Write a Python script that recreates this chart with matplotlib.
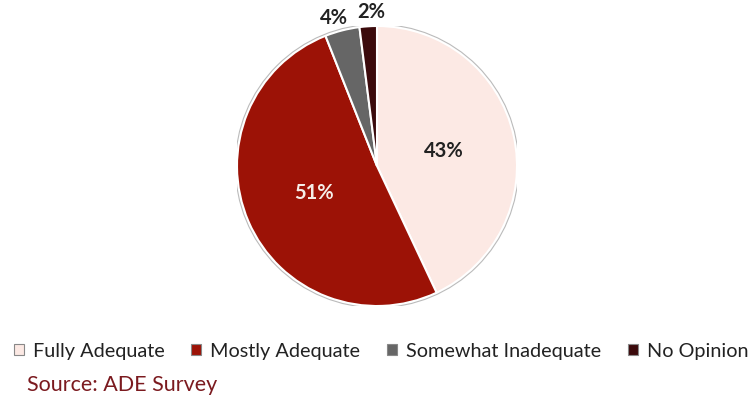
import matplotlib.pyplot as plt
from matplotlib.patches import Circle
import numpy as np

categories = ["Fully Adequate", "Mostly Adequate", "Somewhat Inadequate", "No Opinion"]
values = [43, 51, 4, 2]
labels = ["43%", "51%", "4%", "2%"]
colors = ["#FCE9E4", "#9C1206", "#666666", "#3B0A0C"]
label_colors = ["#222222", "#F5EEE8", "#222222", "#222222"]

plt.rcParams['font.family'] = ['Lato', 'DejaVu Sans']

fig = plt.figure(figsize=(7.53, 4.03), dpi=100)
ax = fig.add_axes([237/753, (403-306)/403, 280/753, 280/403])

wedges, _ = ax.pie(values, colors=colors, startangle=90, counterclock=False,
                   radius=1.0, wedgeprops=dict(edgecolor="white", linewidth=1.5))
ax.add_patch(Circle((0, 0), 1.012, fill=False, edgecolor="#BBBBBB", linewidth=0.8))

# label placement (outside labels nudged like the original best-fit layout)
nudges = [0, 0, 2.0, -1.6]
for w, lab, col, v, nd in zip(wedges, labels, label_colors, values, nudges):
    mid = np.deg2rad((w.theta1 + w.theta2) / 2 + nd)
    r = 0.49 if v >= 10 else 1.1
    ax.text(r * np.cos(mid), r * np.sin(mid), lab, ha="center", va="center",
            fontsize=14.5, fontweight="bold", color=col)
ax.set_xlim(-1, 1)
ax.set_ylim(-1, 1)
ax.set_aspect("equal")
ax.axis("off")

handles = [plt.Rectangle((0, 0), 1, 1, facecolor=c, edgecolor="#888888", linewidth=0.8) for c in colors]
leg = fig.legend(handles, categories, loc="center left", bbox_to_anchor=(14/753, 1 - 351/403),
                 ncol=4, frameon=False, fontsize=14.3, handlelength=0.5, handleheight=0.5,
                 handletextpad=0.45, columnspacing=1.35, borderpad=0, borderaxespad=0)
for t in leg.get_texts():
    t.set_color("#222222")

fig.text(27/753, 1 - 385/403, "Source: ADE Survey", fontsize=15.5, color="#7B1A1F",
         ha="left", va="center")

fig.savefig("out.png", dpi=100)
